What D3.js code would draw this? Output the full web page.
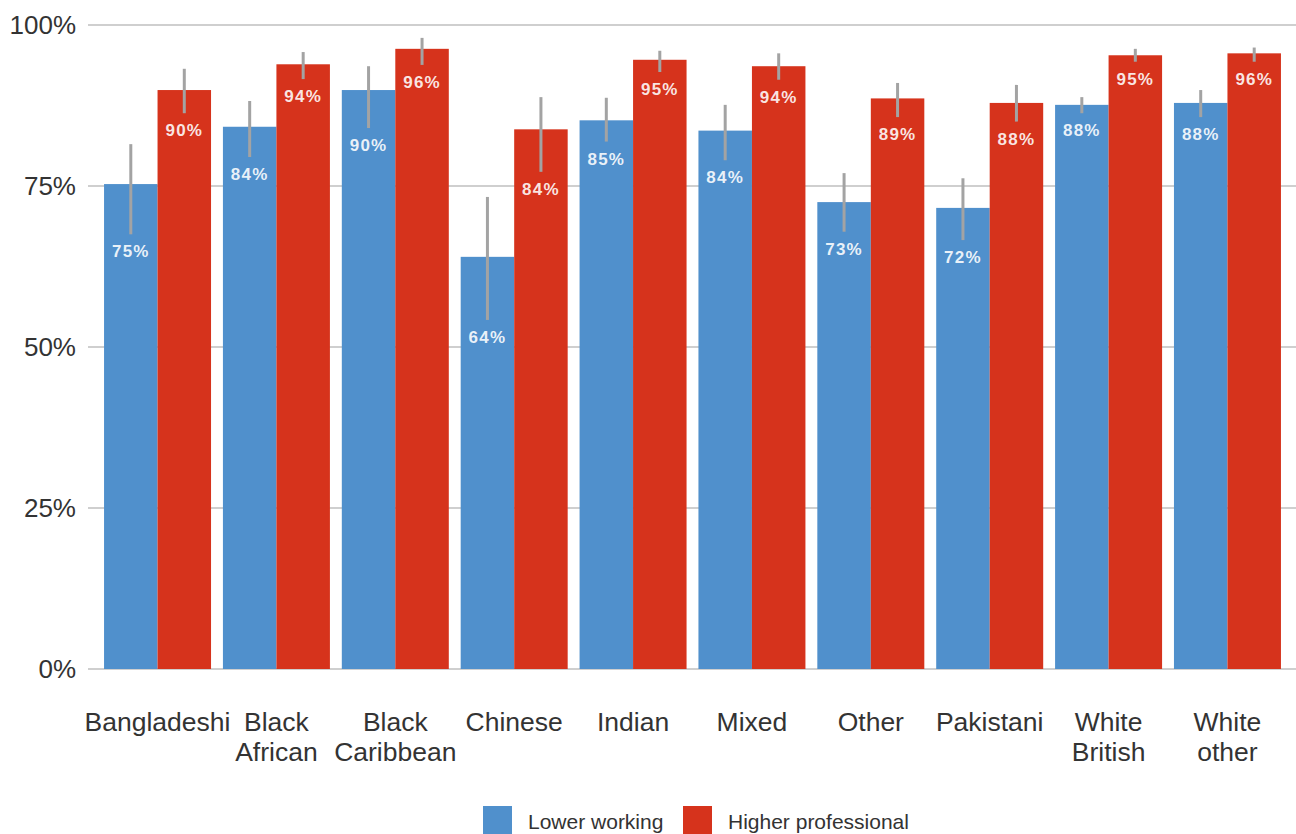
<!DOCTYPE html>
<html>
<head>
<meta charset="utf-8">
<script src="https://cdn.jsdelivr.net/npm/d3@7"></script>
<style>
  html, body { margin: 0; padding: 0; background: #fff; }
  svg { display: block; font-family: "Liberation Sans", Arial, Helvetica, sans-serif; }
</style>
</head>
<body>
<svg id="chart" width="1296" height="834"></svg>
<script>
const categories = ["Bangladeshi", "Black African", "Black Caribbean", "Chinese", "Indian", "Mixed", "Other", "Pakistani", "White British", "White other"];
const seriesNames = ["Lower working", "Higher professional"];
const lowerWorking     = [75.3, 84.2, 89.9, 64.0, 85.2, 83.6, 72.5, 71.6, 87.6, 87.9];
const lowerWorkingLo   = [67.5, 79.5, 84.0, 54.2, 81.9, 79.0, 67.9, 66.6, 86.3, 85.7];
const lowerWorkingHi   = [81.5, 88.2, 93.6, 73.3, 88.7, 87.6, 77.0, 76.2, 88.8, 89.9];
const higherProf       = [89.9, 93.9, 96.3, 83.8, 94.6, 93.6, 88.6, 87.9, 95.3, 95.6];
const higherProfLo     = [86.3, 91.6, 93.8, 77.2, 92.7, 91.5, 85.7, 85.0, 94.3, 94.3];
const higherProfHi     = [93.2, 95.8, 98.0, 88.8, 96.0, 95.6, 91.0, 90.7, 96.3, 96.5];
const yTicks = [0, 25, 50, 75, 100];

const colors = ["#5090cc", "#d6331c"];

const data = categories.map((c, i) => ({
  cat: c,
  vals: [
    { s: 0, v: lowerWorking[i], lo: lowerWorkingLo[i], hi: lowerWorkingHi[i] },
    { s: 1, v: higherProf[i], lo: higherProfLo[i], hi: higherProfHi[i] }
  ]
}));

const svg = d3.select("#chart");
const x = d3.scaleBand().domain(categories).range([88, 1297]).paddingInner(0.1).paddingOuter(0.135);
const xs = d3.scaleBand().domain([0, 1]).range([0, x.bandwidth()]);
const y = d3.scaleLinear().domain([0, 100]).range([669, 25]);

// gridlines
svg.append("g").selectAll("line").data(yTicks).join("line")
  .attr("x1", 88).attr("x2", 1296)
  .attr("y1", d => y(d)).attr("y2", d => y(d))
  .attr("stroke", "#cfcfcf").attr("stroke-width", 2);

// y tick labels
svg.append("g").selectAll("text").data(yTicks).join("text")
  .attr("x", 76).attr("y", d => y(d)).attr("dy", "0.35em")
  .attr("text-anchor", "end").attr("font-size", 26).attr("fill", "#333")
  .text(d => d + "%");

// bars
const groups = svg.append("g").selectAll("g").data(data).join("g")
  .attr("transform", d => `translate(${x(d.cat)},0)`);

groups.selectAll("rect").data(d => d.vals).join("rect")
  .attr("x", d => xs(d.s)).attr("width", xs.bandwidth())
  .attr("y", d => y(d.v)).attr("height", d => y(0) - y(d.v))
  .attr("fill", d => colors[d.s]);

// error bars
groups.selectAll("line.err").data(d => d.vals).join("line")
  .attr("class", "err")
  .attr("x1", d => xs(d.s) + xs.bandwidth() / 2).attr("x2", d => xs(d.s) + xs.bandwidth() / 2)
  .attr("y1", d => y(d.hi)).attr("y2", d => y(d.lo))
  .attr("stroke", "#a3a3a3").attr("stroke-width", 3);

// value labels
groups.selectAll("text.val").data(d => d.vals).join("text")
  .attr("class", "val")
  .attr("x", d => xs(d.s) + xs.bandwidth() / 2)
  .attr("y", d => y(d.lo) + 23)
  .attr("text-anchor", "middle").attr("font-size", 17).attr("font-weight", "bold")
  .attr("letter-spacing", 1.2)
  .attr("fill", "#fff").attr("fill-opacity", 0.88)
  .text(d => Math.round(d.v) + "%");

// category labels
const catG = svg.append("g").selectAll("text").data(categories).join("text")
  .attr("x", d => x(d) + x.bandwidth() / 2)
  .attr("y", 731)
  .attr("text-anchor", "middle").attr("font-size", 26.5).attr("fill", "#333");
catG.each(function(d) {
  const words = d.split(" ");
  const t = d3.select(this);
  words.forEach((w, i) => {
    t.append("tspan").attr("x", x(d) + x.bandwidth() / 2).attr("dy", i === 0 ? 0 : 30).text(w);
  });
});

// legend
const legendItems = [
  { name: seriesNames[0], color: colors[0], x: 483 },
  { name: seriesNames[1], color: colors[1], x: 683 }
];
const lg = svg.append("g").selectAll("g").data(legendItems).join("g")
  .attr("transform", d => `translate(${d.x},806)`);
lg.append("rect").attr("width", 29).attr("height", 29).attr("fill", d => d.color);
lg.append("text").attr("x", 45).attr("y", 23).attr("font-size", 21).attr("fill", "#333")
  .text(d => d.name);
</script>
</body>
</html>
